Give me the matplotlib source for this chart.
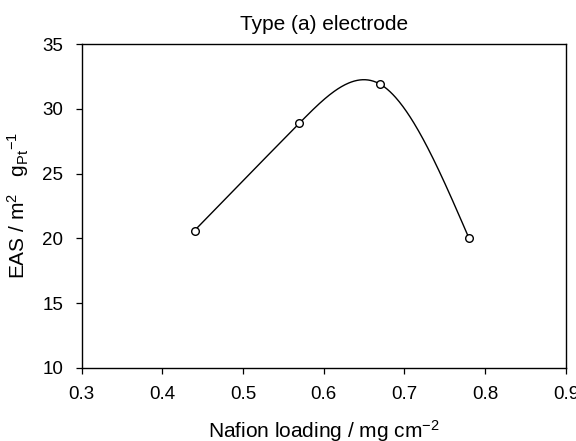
import numpy as np
import matplotlib
matplotlib.use("Agg")
import matplotlib.pyplot as plt

plt.rcParams['font.family'] = ['Liberation Sans', 'DejaVu Sans']
plt.rcParams['mathtext.fontset'] = 'custom'
plt.rcParams['mathtext.rm'] = 'Liberation Sans'
plt.rcParams['mathtext.it'] = 'Liberation Sans:italic'

nafion_loading = [0.44, 0.57, 0.67, 0.78]
eas = [20.6, 28.9, 31.9, 20.0]
x_ticks = [0.3, 0.4, 0.5, 0.6, 0.7, 0.8, 0.9]
y_ticks = [10, 15, 20, 25, 30, 35]


def natural_spline(x, y, n=300):
    # natural cubic spline through the points, for the smooth connecting line
    x = np.asarray(x, float)
    y = np.asarray(y, float)
    k = len(x)
    h = np.diff(x)
    A = np.zeros((k, k))
    b = np.zeros(k)
    A[0, 0] = A[-1, -1] = 1
    for i in range(1, k - 1):
        A[i, i - 1] = h[i - 1]
        A[i, i] = 2 * (h[i - 1] + h[i])
        A[i, i + 1] = h[i]
        b[i] = 6 * ((y[i + 1] - y[i]) / h[i] - (y[i] - y[i - 1]) / h[i - 1])
    m = np.linalg.solve(A, b)
    xs = np.linspace(x[0], x[-1], n)
    idx = np.clip(np.searchsorted(x, xs) - 1, 0, k - 2)
    t0 = x[idx]
    t1 = x[idx + 1]
    hh = t1 - t0
    ys = (m[idx] * (t1 - xs) ** 3 / (6 * hh) + m[idx + 1] * (xs - t0) ** 3 / (6 * hh)
          + (y[idx] / hh - m[idx] * hh / 6) * (t1 - xs)
          + (y[idx + 1] / hh - m[idx + 1] * hh / 6) * (xs - t0))
    return xs, ys


fig = plt.figure(figsize=(5.76, 4.41), dpi=100)
ax = fig.add_axes([0.1415, 0.166, 0.841, 0.734])

xs, ys = natural_spline(nafion_loading, eas)
ax.plot(xs, ys, color='black', linewidth=1.0)
ax.plot(nafion_loading, eas, linestyle='none', marker='o', markersize=5.5,
        markerfacecolor='white', markeredgecolor='black', markeredgewidth=1.0)

ax.set_xlim(0.3, 0.9)
ax.set_ylim(10, 35)
ax.set_xticks(x_ticks)
ax.set_yticks(y_ticks)
ax.set_xticklabels([f"{v:.1f}" for v in x_ticks])
ax.tick_params(direction='out', length=4.3, width=0.9, labelsize=13.5,
               top=False, right=False)
ax.tick_params(axis='x', pad=9)
ax.tick_params(axis='y', pad=9)
for s in ax.spines.values():
    s.set_linewidth(1.0)

ax.set_title('Type (a) electrode', fontsize=15, pad=10)
ax.set_xlabel(r'Nafion loading / mg cm$^{-2}$', fontsize=15, labelpad=11)
ax.set_ylabel(r'EAS / m$^2$   g$_{\rm Pt}$$^{-1}$', fontsize=15, labelpad=8)

fig.savefig('out.png', dpi=100)
